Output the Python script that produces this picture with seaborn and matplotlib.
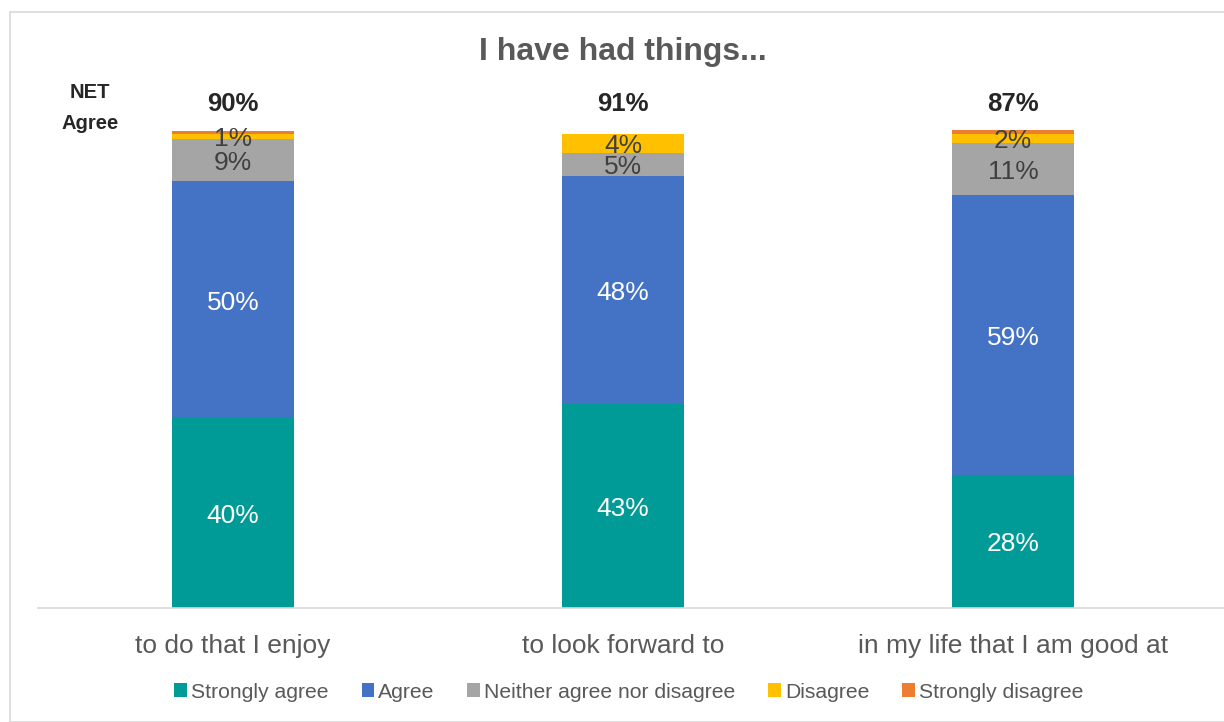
import matplotlib
matplotlib.use("Agg")
import matplotlib.pyplot as plt
import matplotlib.patches as mpatches
import seaborn as sns
import pandas as pd
import numpy as np

# Survey results (percent of respondents)
categories = ["to do that I enjoy", "to look forward to", "in my life that I am good at"]
series_names = ["Strongly agree", "Agree", "Neither agree nor disagree", "Disagree", "Strongly disagree"]
strongly_agree = [40, 43, 28]
agree = [50, 48, 59]
neither = [9, 5, 11]
disagree = [1, 4, 2]
strongly_disagree = [0.6, 0, 1]
net_agree = [90, 91, 87]
show_label = [True, True, True, True, False]

colors = ["#009A97", "#4472C4", "#A5A5A5", "#FFC000", "#ED7D31"]
label_colors = ["white", "white", "#404040", "#404040", "#404040"]

sns.set_theme(style="white")
plt.rcParams["font.family"] = ["Liberation Sans", "DejaVu Sans"]

series = [strongly_agree, agree, neither, disagree, strongly_disagree]
rows = []
for name, vals in zip(series_names, series):
    for cat, v in zip(categories, vals):
        rows.append({"category": cat, "series": name, "value": v})
df = pd.DataFrame(rows)
df["cum"] = df.groupby("category")["value"].cumsum()
df["start"] = df["cum"] - df["value"]

W, H = 1224, 722
fig = plt.figure(figsize=(W / 100, H / 100), dpi=100)
fig.patch.set_facecolor("white")

# outer frame
fig.patches.append(mpatches.Rectangle((10 / W, 0), 1.2, (H - 12) / H, transform=fig.transFigure,
                                      fill=False, edgecolor="#D9D9D9", linewidth=1.2))

ax = fig.add_axes([38 / W, (H - 608) / H, (1208 - 38) / W, 478 / H])

# stacked bars: draw cumulative totals from the top series down
for name, col in reversed(list(zip(series_names, colors))):
    sub = df[df["series"] == name]
    sns.barplot(data=sub, x="category", y="cum", order=categories, color=col,
                width=0.313, ax=ax, saturation=1, linewidth=0, errorbar=None)

ax.set_xlim(-0.5, 2.5)
ax.set_ylim(0, 100.8)
ax.set_xlabel("")
ax.set_ylabel("")
ax.set_yticks([])
for s in ["left", "right", "top"]:
    ax.spines[s].set_visible(False)
ax.spines["bottom"].set_color("#D9D9D9")
ax.spines["bottom"].set_linewidth(1.2)
ax.spines["bottom"].set_bounds(-0.5, 2.54)
ax.tick_params(axis="x", length=0, pad=19, labelsize=19, labelcolor="#595959")

# segment value labels
for si, (name, lc) in enumerate(zip(series_names, label_colors)):
    if not show_label[si]:
        continue
    sub = df[df["series"] == name]
    for i, cat in enumerate(categories):
        r = sub[sub["category"] == cat].iloc[0]
        if r["value"] <= 0:
            continue
        ax.text(i, r["start"] + r["value"] / 2 - 0.6, f"{r['value']:.0f}%", ha="center", va="center",
                fontsize=19, color=lc, clip_on=False)

# NET agree totals
for i, v in enumerate(net_agree):
    ax.text(i, 106.3, f"{v}%", ha="center", va="center", fontsize=18.5, fontweight="bold",
            color="#262626", clip_on=False)
fig.text(90 / W, 1 - 108 / H, "NET\nAgree", ha="center", va="center", fontsize=14.5,
         fontweight="bold", color="#262626", linespacing=1.75)

fig.text(623 / W, 1 - 52 / H, "I have had things...", ha="center", va="center",
         fontsize=23, fontweight="bold", color="#595959")

handles = [mpatches.Patch(facecolor=c, edgecolor="none", label=n) for n, c in zip(series_names, colors)]
fig.legend(handles=handles, loc="center", bbox_to_anchor=(629 / W, 1 - 692 / H), ncol=5,
           frameon=False, fontsize=15.2, handlelength=0.6, handleheight=0.6,
           handletextpad=0.2, columnspacing=1.55, labelcolor="#595959")

fig.savefig("out.png", dpi=100, facecolor="white")
